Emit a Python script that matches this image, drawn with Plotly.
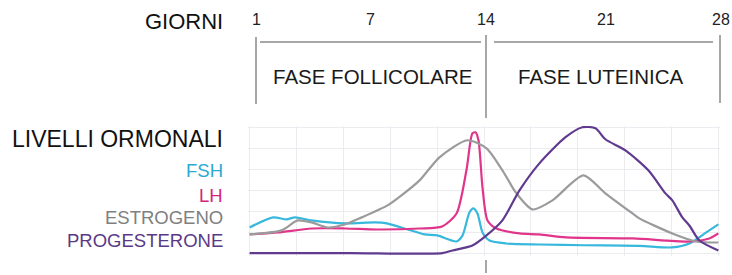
import plotly.graph_objects as go

# ---- data (day of cycle, relative level 0-100) ----
fsh_days = [0, 1.4, 2.2, 2.7, 3.7, 5.7, 7.5, 8.2, 9.25, 10.45, 11.2, 12.36, 12.72, 13.13, 13.37, 13.61, 13.91, 14.33, 15.34, 17.3, 20.0, 23.3, 25.25, 26.27, 27.28, 28]
fsh_vals = [20.6, 28.6, 27.0, 28.6, 26.2, 23.8, 24.6, 23.8, 19.8, 15.1, 14.3, 9.5, 14.3, 32.5, 35.7, 31.7, 16.7, 10.3, 7.9, 7.1, 6.5, 6.0, 4.8, 7.9, 16.7, 23.0]

lh_days = [0, 1.7, 3.7, 5.7, 7.6, 10.15, 11.5, 12.36, 12.95, 13.31, 13.49, 13.67, 13.91, 14.21, 14.75, 16.12, 17.3, 18.9, 22.9, 26.27, 27.46, 28]
lh_vals = [15.1, 16.7, 19.8, 19.8, 19.0, 19.8, 21.4, 31.7, 65.9, 95.2, 96.0, 89.7, 52.4, 26.2, 19.8, 15.9, 15.1, 12.7, 11.9, 9.5, 11.9, 15.9]

est_days = [0, 1.9, 2.87, 3.7, 4.66, 5.67, 6.69, 8.24, 9.07, 10.15, 11.34, 13.01, 14.15, 15.1, 15.94, 16.9, 18.09, 19.94, 21.25, 22.87, 23.28, 25.25, 26.69, 28]
est_vals = [15.1, 18.3, 26.2, 24.6, 20.6, 23.0, 28.6, 38.1, 46.0, 57.9, 76.2, 89.7, 83.3, 65.9, 47.6, 34.9, 42.1, 61.9, 47.6, 31.7, 27.8, 15.9, 9.5, 8.7]

prog_days = [0, 6, 11.5, 12.12, 13.31, 14.15, 15.1, 16.12, 17.31, 18.87, 19.88, 20.66, 21.25, 22.45, 23.82, 24.84, 25.25, 25.85, 26.27, 26.87, 28]
prog_vals = [0.3, 0.3, 0.3, 2.4, 6.3, 14.3, 26.2, 50.0, 71.4, 92.1, 100, 99.2, 90.5, 81.7, 65.9, 47.6, 42.1, 28.6, 22.2, 10.3, 2.4]

day_labels = ["1", "7", "14", "21", "28"]
phase_labels = ["FASE FOLLICOLARE", "FASE LUTEINICA"]
series_names = ["FSH", "LH", "ESTROGENO", "PROGESTERONE"]

# ---- layout helpers ----
W, H = 732, 275
L, R, T, B = 248, 12, 126, 19
PW, PH = W - L - R, H - T - B


def px(x):
    return (x - L) / PW


def py(y):
    return (H - B - y) / PH


line_cols = ["#37b8dc", "#e0358a", "#9b9b9b", "#5f3a8e"]
text_cols = ["#2aaad4", "#d4257a", "#808080", "#5a3a86"]

fig = go.Figure()
for name, xs, ys, c in zip(series_names,
                           [fsh_days, lh_days, est_days, prog_days],
                           [fsh_vals, lh_vals, est_vals, prog_vals],
                           line_cols):
    fig.add_trace(go.Scatter(x=xs, y=ys, mode="lines", name=name,
                             line=dict(color=c, width=2.2, shape="spline", smoothing=0.7),
                             hoverinfo="skip"))

font = "Liberation Sans, Arial, Helvetica, sans-serif"
ann = []
# day labels
for lab, xp in zip(day_labels, [256, 370, 486, 606, 721]):
    ann.append(dict(x=px(xp), y=py(19), xref="paper", yref="paper", text=lab, showarrow=False,
                    xanchor="center", yanchor="middle", font=dict(size=16, color="#222", family=font)))
# phase labels
for lab, xp in zip(phase_labels, [372, 601]):
    ann.append(dict(x=px(xp), y=py(76), xref="paper", yref="paper", text=lab, showarrow=False,
                    xanchor="center", yanchor="middle", font=dict(size=20.5, color="#1a1a1a", family=font)))
# titles
ann.append(dict(x=px(225), y=py(21), xref="paper", yref="paper", text="GIORNI", showarrow=False,
                xanchor="right", yanchor="middle", font=dict(size=22, color="#111", family=font)))
ann.append(dict(x=px(225), y=py(139), xref="paper", yref="paper", text="LIVELLI ORMONALI", showarrow=False,
                xanchor="right", yanchor="middle", font=dict(size=23, color="#111", family=font)))
for name, c, yp in zip(series_names, text_cols, [170, 195, 217.5, 240.5]):
    ann.append(dict(x=px(225), y=py(yp), xref="paper", yref="paper", text=name, showarrow=False,
                    xanchor="right", yanchor="middle", font=dict(size=18.5, color=c, family=font)))

shapes = []
lc = dict(color="#8a8a8a", width=1.5)


def seg(x0, y0, x1, y1):
    shapes.append(dict(type="line", xref="paper", yref="paper", x0=px(x0), y0=py(y0),
                       x1=px(x1), y1=py(y1), line=lc))


seg(256, 37, 256, 104)
seg(486, 35, 486, 118)
seg(486, 260, 486, 273)
seg(720, 35, 720, 103)
seg(260, 42, 481, 42)
seg(494, 42, 713, 42)

fig.update_layout(
    width=W, height=H,
    margin=dict(l=L, r=R, t=T, b=B),
    paper_bgcolor="white", plot_bgcolor="white",
    showlegend=False,
    annotations=ann, shapes=shapes,
    xaxis=dict(range=[-0.1, 28.1], tick0=0, dtick=2.8, showgrid=True, gridcolor="#ebebf0",
               gridwidth=1, showticklabels=False, zeroline=False, showline=False, ticks=""),
    yaxis=dict(range=[-2, 101], tickvals=[i * 100 / 6 for i in range(7)], showgrid=True,
               gridcolor="#ebebf0", gridwidth=1, showticklabels=False, zeroline=False,
               showline=False, ticks=""),
)

fig.write_html("out.html",
               config={"displayModeBar": False, "staticPlot": True},
               post_script="document.body.style.margin='0';document.body.style.overflow='hidden';")
